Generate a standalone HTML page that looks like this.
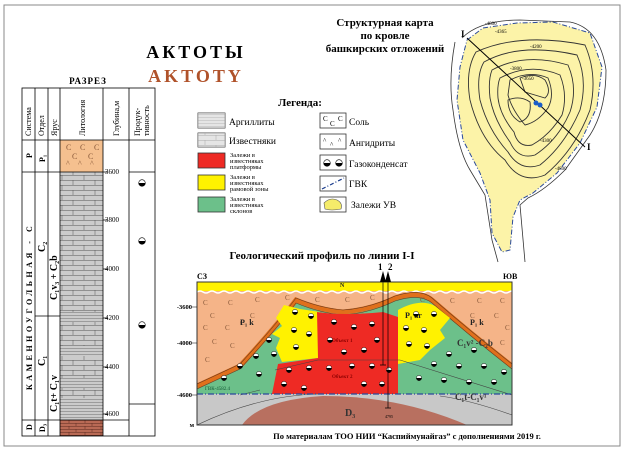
<!DOCTYPE html>
<html><head><meta charset="utf-8"><style>
html,body{margin:0;padding:0;background:#fff;}
svg{display:block;}
text{font-family:"Liberation Serif",serif;}
</style></head><body>
<svg width="624" height="452" viewBox="0 0 624 452" xmlns="http://www.w3.org/2000/svg">
<defs>
<symbol id="g" viewBox="-5 -5 10 10" overflow="visible">
<circle r="3.3" fill="#fff" stroke="#000" stroke-width="0.6"/>
<path d="M-3.3 0 A3.3 3.3 0 0 0 3.3 0 Z" fill="#000"/>
</symbol>
<pattern id="lime" width="22" height="10" patternUnits="userSpaceOnUse">
<rect width="22" height="10" fill="#cbcbcb"/>
<path d="M0 0.25H22M0 5.25H22M7 0V5M18 5V10" stroke="#555" stroke-width="0.5"/>
</pattern>
<pattern id="arg" width="10" height="3" patternUnits="userSpaceOnUse">
<rect width="10" height="3" fill="#cbcbcb"/><path d="M0 0.25H10" stroke="#555" stroke-width="0.4"/>
</pattern>
<pattern id="brick" width="16" height="6" patternUnits="userSpaceOnUse">
<rect width="16" height="6" fill="#b96a55"/><path d="M0 0.25H16M0 3.25H16M5 0V3M12 3V6" stroke="#5a2a20" stroke-width="0.5"/>
</pattern>
</defs>
<rect x="4" y="5" width="616" height="441" fill="#fff" stroke="#888" stroke-width="1"/>

<text x="196" y="58" font-size="18" font-weight="bold" text-anchor="middle" letter-spacing="3">АКТОТЫ</text>
<text x="196" y="82" font-size="18" font-weight="bold" text-anchor="middle" letter-spacing="3" fill="#b0522a">AKTOTY</text>
<text x="385" y="26" font-size="11" font-weight="bold" text-anchor="middle">Структурная карта</text>
<text x="385" y="39" font-size="11" font-weight="bold" text-anchor="middle">по кровле</text>
<text x="385" y="52" font-size="11" font-weight="bold" text-anchor="middle">башкирских отложений</text>
<text x="88" y="84" font-size="9" font-weight="bold" text-anchor="middle" letter-spacing="1">РАЗРЕЗ</text>

<rect x="60" y="140" width="43" height="32" fill="#f5c08f"/>
<g font-size="8" fill="#8a5a3a" font-family="Liberation Sans,sans-serif">
<text x="66" y="150">C</text><text x="80" y="150">C</text><text x="94" y="150">C</text>
<text x="72" y="159">C</text><text x="88" y="159">C</text>
<text x="66" y="166">^</text><text x="78" y="166">^</text><text x="90" y="166">^</text>
</g>
<rect x="60" y="172" width="43" height="248" fill="url(#lime)"/>
<rect x="60" y="312" width="43" height="10" fill="url(#arg)"/>
<rect x="60" y="346" width="43" height="10" fill="url(#arg)"/>
<rect x="60" y="378" width="43" height="10" fill="url(#arg)"/>
<rect x="60" y="398" width="43" height="22" fill="url(#arg)"/>
<rect x="60" y="420" width="43" height="16" fill="url(#brick)"/>
<g fill="none" stroke="#000" stroke-width="0.8">
<rect x="22" y="88" width="133" height="348"/>
<path d="M22 140H155M22 172H103M22 420H129M35 88V436M48 88V436M60 88V436M103 88V436M129 88V436M129 172H155M129 404H155M35 316H60"/>
<path d="M103 172h5M103 220h5M103 269h5M103 318h5M103 367h5M103 414h5"/>
</g>
<g font-size="7">
<text x="105" y="174">3600</text><text x="105" y="222">3800</text><text x="105" y="271">4000</text>
<text x="105" y="320">4200</text><text x="105" y="369">4400</text><text x="105" y="416">4600</text>
</g>
<g font-size="8">
<text transform="translate(31,136) rotate(-90)">Система</text>
<text transform="translate(44,136) rotate(-90)">Отдел</text>
<text transform="translate(57,136) rotate(-90)">Ярус</text>
<text transform="translate(85,136) rotate(-90)">Литология</text>
<text transform="translate(119,136) rotate(-90)">Глубина,м</text>
<text transform="translate(140,136) rotate(-90)">Продук-</text>
<text transform="translate(149,136) rotate(-90)">тивность</text>
<g font-weight="bold">
<text transform="translate(32,158) rotate(-90)">P</text>
<text transform="translate(45,162) rotate(-90)">P₁</text>
<text transform="translate(32,430) rotate(-90)">D</text>
<text transform="translate(45,432) rotate(-90)">D₃</text>
<text transform="translate(32,390) rotate(-90)" letter-spacing="3.5">КАМЕННОУГОЛЬНАЯ - С</text>
<text transform="translate(45,252) rotate(-90)" font-size="10">C₂</text>
<text transform="translate(45,366) rotate(-90)" font-size="10">C₁</text>
<text transform="translate(57,300) rotate(-90)" font-size="10">C₁v₃  +  C₂b</text>
<text transform="translate(57,412) rotate(-90)" font-size="10">C₁t+ C₁v</text>
</g>
</g>
<use href="#g" x="137" y="178" width="10" height="10"/>
<use href="#g" x="137" y="236" width="10" height="10"/>
<use href="#g" x="137" y="320" width="10" height="10"/>

<text x="300" y="106" font-size="11" font-weight="bold" text-anchor="middle">Легенда:</text>
<g stroke="#333" stroke-width="0.8">
<rect x="198" y="113" width="27" height="15" fill="url(#arg)"/>
<rect x="198" y="133" width="27" height="14" fill="url(#lime)"/>
<rect x="198" y="153" width="27" height="15" fill="#ee2a24"/>
<rect x="198" y="175" width="27" height="15" fill="#fff200"/>
<rect x="198" y="197" width="27" height="15" fill="#6cc08a"/>
<rect x="320" y="113" width="26" height="15" fill="#fff"/>
<rect x="320" y="134" width="26" height="15" fill="#fff"/>
<rect x="320" y="155" width="26" height="15" fill="#fff"/>
<rect x="320" y="176" width="26" height="15" fill="#fff"/>
<rect x="320" y="197" width="26" height="15" fill="#fff"/>
</g>
<rect x="198" y="133" width="27" height="14" fill="#fff" opacity="0.5"/>
<rect x="198" y="113" width="27" height="15" fill="#fff" opacity="0.5"/>
<g font-size="7" font-family="Liberation Sans,sans-serif"><text x="323" y="121">C</text><text x="330" y="126">C</text><text x="338" y="121">C</text>
<text x="323" y="143">^</text><text x="330" y="147">^</text><text x="338" y="143">^</text></g>
<use href="#g" x="322" y="158" width="10" height="10"/><use href="#g" x="334" y="158" width="10" height="10"/>
<path d="M322 189L344 178" stroke="#1a3c8c" stroke-width="1.2" stroke-dasharray="4,2,1,2"/>
<path d="M324 203q6-6 13-3q6 3 4 9q-10 2-16 0z" fill="#f5ec6a" stroke="#555" stroke-width="0.6"/>
<g font-size="9.5">
<text x="229" y="125">Аргиллиты</text><text x="229" y="144">Известняки</text>
<text x="349" y="125">Соль</text><text x="349" y="146">Ангидриты</text><text x="349" y="167">Газоконденсат</text>
<text x="349" y="187">ГВК</text><text x="351" y="208">Залежи УВ</text>
</g>
<g font-size="6.5">
<text x="230" y="157">Залежи в</text><text x="230" y="163">известняках</text><text x="230" y="169">платформы</text>
<text x="230" y="179">Залежи в</text><text x="230" y="185">известняках</text><text x="230" y="191">рамовой зоны</text>
<text x="230" y="201">Залежи в</text><text x="230" y="207">известняках</text><text x="230" y="213">склонов</text>
</g>

<path d="M462 38Q480 20 520 20L570 22Q600 28 606 70Q606 110 590 135L565 170Q545 190 528 198L520 205L525 262M455 42Q448 80 453 110Q458 150 470 170L485 195L492 240L498 262" fill="none" stroke="#333" stroke-width="0.8"/>
<path d="M467 40L483 28L517 23L553 22L590 33L602 67L597 107L580 143L557 173L533 193L520 200L513 217L510 250L502 252L492 233L490 200L480 173L463 140L457 100L460 67Z" fill="#fcf3a8" stroke="#2a4a9a" stroke-width="1" stroke-dasharray="5,2,1,2"/>
<g fill="none" stroke="#333" stroke-width="0.9">
<path d="M476 52Q520 32 585 45Q598 75 590 110Q575 150 545 175Q520 185 505 160Q480 140 470 100Q465 70 476 52Z"/>
<path d="M484 62Q520 42 577 55Q588 80 580 110Q565 145 540 165Q520 172 508 152Q488 130 480 100Q476 75 484 62Z"/>
<path d="M492 70Q525 52 568 65Q578 88 570 112Q558 140 535 155Q518 160 510 142Q494 120 490 98Q488 80 492 70Z"/>
<path d="M500 78Q530 62 560 75Q568 95 562 115Q550 135 532 145Q518 148 514 132Q500 115 498 98Q497 85 500 78Z"/>
<path d="M510 80Q530 70 548 78Q555 95 548 108Q538 122 525 125Q512 110 508 95Z"/>
<path d="M520 78Q535 72 545 80Q552 92 545 98Q535 95 525 92Z"/>
<path d="M508 100Q520 95 530 102Q532 118 520 122Q508 115 508 100Z"/>
</g>
<path d="M467 38L585 147" stroke="#000" stroke-width="1"/>
<circle cx="536" cy="103" r="2.5" fill="#1a5ec8"/><circle cx="540" cy="105" r="2.5" fill="#1a5ec8"/>
<g font-size="9" font-weight="bold"><text x="461" y="37">I</text><text x="587" y="150">I</text></g>
<g font-size="5"><text x="485" y="25">-4800</text><text x="495" y="33">-4365</text><text x="530" y="48">-4200</text><text x="510" y="70">-3800</text><text x="522" y="80">-3650</text><text x="540" y="142">-4300</text><text x="555" y="170">-4800</text></g>

<text x="322" y="259" font-size="11" font-weight="bold" text-anchor="middle">Геологический профиль по линии I-I</text>
<text x="197" y="279" font-size="8" font-weight="bold">СЗ</text>
<text x="503" y="279" font-size="8" font-weight="bold">ЮВ</text>
<svg x="197" y="282" width="315" height="143" viewBox="197 282 315 143" overflow="hidden">
<rect x="197" y="282" width="315" height="143" fill="#f5b488"/>
<rect x="197" y="282" width="315" height="9" fill="#fff200"/>
<path d="M197 292q3-2 6 0t6 0t6 0t6 0t6 0t6 0t6 0t6 0t6 0t6 0t6 0t6 0t6 0t6 0t6 0t6 0t6 0t6 0t6 0t6 0t6 0t6 0t6 0t6 0t6 0t6 0t6 0t6 0t6 0t6 0t6 0t6 0t6 0t6 0t6 0t6 0t6 0t6 0t6 0t6 0t6 0t6 0t6 0t6 0t6 0t6 0t6 0t6 0t6 0t6 0t6 0t6 0t6 0" fill="none" stroke="#fff" stroke-width="1.5"/>
<rect x="197" y="394" width="315" height="31" fill="#c8c8c8"/>
<path d="M197 388L240 368Q275 330 295 302Q320 312 343 314Q370 312 395 300Q420 292 430 302Q470 335 512 368L512 394L197 394Z" fill="#6cc08a"/>
<path d="M197 386L240 366Q275 328 296 300Q320 310 343 312Q370 310 395 298Q420 290 432 300Q470 333 512 366" fill="none" stroke="#e0701c" stroke-width="5"/>
<path d="M197 384L240 364Q275 326 296 298Q320 308 343 310Q370 308 395 296Q420 288 432 298Q470 331 512 364" fill="none" stroke="#6a3a20" stroke-width="0.6"/>
<path d="M197 389L240 369Q275 331 296 303Q320 313 343 315Q370 313 395 301Q420 293 432 303Q470 336 512 369" fill="none" stroke="#6a3a20" stroke-width="0.6"/>
<path d="M284 305L300 309L320 312L320 335L318 358L282 362L276 348L280 338L272 334L282 326L276 318Z" fill="#fff200"/>
<path d="M317 312Q343 316 383 312L398 317L398 394L272 394L278 364L318 358Z" fill="#ee2a24"/>
<path d="M398 310Q420 298 435 306L450 318L440 330L445 338L430 350L420 360L398 364Z" fill="#fff200"/>
<path d="M275 370L318 360L400 360L512 395M240 395L260 390" fill="none" stroke="#444" stroke-width="0.6"/>
<path d="M242 425Q260 400 323 396Q400 396 467 425Z" fill="#b87060"/>
<path d="M197 425Q260 395 320 394M512 415Q470 400 440 396" fill="none" stroke="#444" stroke-width="0.6"/>
<path d="M197 394H512" stroke="#2a4a9a" stroke-width="1.3" stroke-dasharray="6,2,1,2"/>
<g font-size="7" fill="#8a5a3a" font-family="Liberation Sans,sans-serif">
<text x="203" y="305">C</text><text x="228" y="305">C</text><text x="255" y="302">C</text><text x="285" y="300">C</text><text x="315" y="302">C</text><text x="345" y="302">C</text><text x="370" y="300">C</text><text x="420" y="302">C</text><text x="450" y="303">C</text><text x="477" y="303">C</text><text x="500" y="303">C</text>
<text x="210" y="318">C</text><text x="250" y="318">C</text><text x="470" y="318">C</text><text x="494" y="318">C</text>
<text x="203" y="330">C</text><text x="225" y="330">C</text><text x="240" y="325">C</text><text x="505" y="330">C</text>
<text x="212" y="344">C</text><text x="230" y="348">C</text><text x="500" y="345">C</text>
<text x="205" y="362">C</text>
</g>
<g font-size="8" font-weight="bold" fill="#222">
<text x="240" y="325">P₁ k</text><text x="470" y="325">P₁ k</text><text x="405" y="318">P₁ ar</text>
<text x="457" y="346" fill="#333" font-size="9">C₁v² -C₂b</text>
<text x="455" y="400" fill="#333" font-size="9">C₁t-C₁v¹</text>
<text x="345" y="416" fill="#333" font-size="10">D₃</text>
<text x="340" y="287" font-size="6">N</text>
</g>
<g font-size="5" fill="#8b0000" font-weight="bold"><text x="332" y="342">Объект 1</text><text x="332" y="378">Объект 2</text></g>
<text x="205" y="390" font-size="5" fill="#153">ГВК-4582.4</text>
<g>
<use href="#g" x="291" y="308" width="8" height="8"/><use href="#g" x="307" y="312" width="8" height="8"/><use href="#g" x="290" y="326" width="8" height="8"/><use href="#g" x="305" y="330" width="8" height="8"/><use href="#g" x="292" y="343" width="8" height="8"/>
<use href="#g" x="265" y="336" width="8" height="8"/><use href="#g" x="252" y="352" width="8" height="8"/><use href="#g" x="270" y="350" width="8" height="8"/><use href="#g" x="236" y="362" width="8" height="8"/><use href="#g" x="220" y="374" width="8" height="8"/><use href="#g" x="255" y="370" width="8" height="8"/>
<use href="#g" x="330" y="318" width="8" height="8"/><use href="#g" x="350" y="323" width="8" height="8"/><use href="#g" x="368" y="320" width="8" height="8"/><use href="#g" x="326" y="336" width="8" height="8"/><use href="#g" x="373" y="336" width="8" height="8"/><use href="#g" x="340" y="348" width="8" height="8"/><use href="#g" x="360" y="346" width="8" height="8"/>
<use href="#g" x="285" y="366" width="8" height="8"/><use href="#g" x="305" y="364" width="8" height="8"/><use href="#g" x="325" y="364" width="8" height="8"/><use href="#g" x="348" y="362" width="8" height="8"/><use href="#g" x="368" y="362" width="8" height="8"/><use href="#g" x="385" y="366" width="8" height="8"/>
<use href="#g" x="280" y="380" width="8" height="8"/><use href="#g" x="300" y="384" width="8" height="8"/><use href="#g" x="360" y="380" width="8" height="8"/><use href="#g" x="378" y="380" width="8" height="8"/>
<use href="#g" x="412" y="310" width="8" height="8"/><use href="#g" x="430" y="310" width="8" height="8"/><use href="#g" x="402" y="324" width="8" height="8"/><use href="#g" x="420" y="326" width="8" height="8"/><use href="#g" x="405" y="340" width="8" height="8"/><use href="#g" x="423" y="342" width="8" height="8"/>
<use href="#g" x="445" y="350" width="8" height="8"/><use href="#g" x="470" y="346" width="8" height="8"/><use href="#g" x="430" y="360" width="8" height="8"/><use href="#g" x="455" y="362" width="8" height="8"/><use href="#g" x="480" y="362" width="8" height="8"/><use href="#g" x="415" y="374" width="8" height="8"/><use href="#g" x="440" y="376" width="8" height="8"/><use href="#g" x="465" y="378" width="8" height="8"/><use href="#g" x="490" y="378" width="8" height="8"/><use href="#g" x="500" y="368" width="8" height="8"/>
</g>
<path d="M383 282V365M388 282V408M380 365h6M385 408h6" stroke="#000" stroke-width="0.7"/>
<text x="385" y="418" font-size="4">4795</text>
</svg>
<rect x="197" y="282" width="315" height="143" fill="none" stroke="#333" stroke-width="1"/>
<path d="M380 282L383 271L386 282ZM385 282L388 271L391 282Z" fill="#000"/>
<text x="378" y="270" font-size="9" font-weight="bold">1</text><text x="388" y="270" font-size="9" font-weight="bold">2</text>
<g font-size="6.5" font-weight="bold" text-anchor="end">
<text x="192" y="309">-3600</text><text x="192" y="345">-4000</text><text x="192" y="397">-4600</text><text x="194" y="427">м</text>
</g>
<path d="M192 307h5M192 343h5M192 395h5" stroke="#000" stroke-width="0.6"/>
<text x="407" y="439" font-size="8.5" font-weight="bold" text-anchor="middle" font-family="Liberation Sans,sans-serif">По материалам ТОО НИИ “Каспиймунайгаз” с дополнениями 2019 г.</text>
</svg>
</body></html>
